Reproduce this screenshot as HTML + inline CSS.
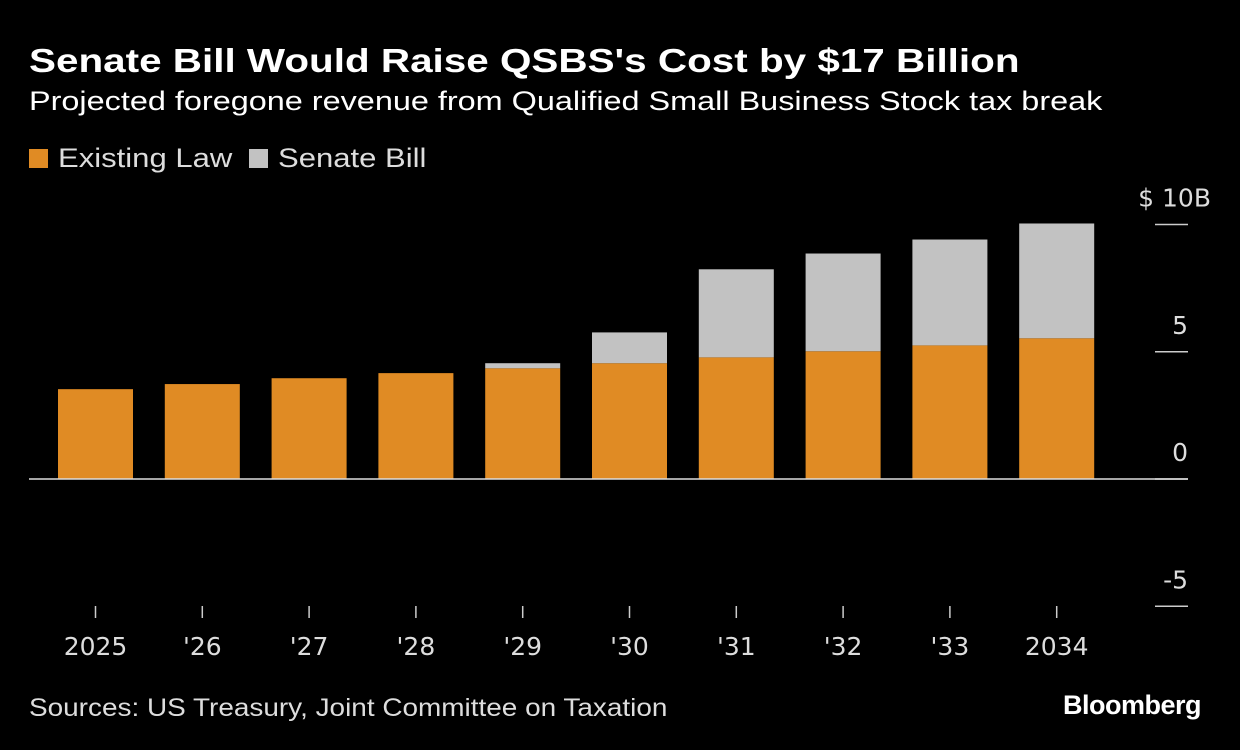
<!DOCTYPE html>
<html><head><meta charset="utf-8"><style>
body{margin:0;background:#000;width:1240px;height:750px;overflow:hidden;font-family:"Liberation Sans",sans-serif;color:#fff}
.sx{transform-origin:0 0;white-space:nowrap}
#title{position:absolute;left:29px;top:42px;font-size:33px;font-weight:bold;transform:scaleX(1.225)}
#sub{position:absolute;left:29px;top:86px;font-size:27px;color:#fff;transform:scaleX(1.2)}
#legend{position:absolute;left:29px;top:143px;font-size:27px;color:#ddd;display:flex;align-items:center}
.sw{display:inline-block;width:19px;height:19px;margin-right:10px}
.lt{display:inline-block;transform:scaleX(1.15);transform-origin:0 50%}
#src{position:absolute;left:29px;top:694px;font-size:25px;color:#ddd;transform:scaleX(1.117)}
#logo{position:absolute;right:39px;top:690px;font-size:27px;font-weight:bold;letter-spacing:-0.5px}
svg{position:absolute;left:0;top:0}
</style></head><body>
<div id="title" class="sx">Senate Bill Would Raise QSBS's Cost by $17 Billion</div>
<div id="sub" class="sx">Projected foregone revenue from Qualified Small Business Stock tax break</div>
<div id="legend">
<span style="display:flex;align-items:center;width:220px"><span class="sw" style="background:#e08b24"></span><span class="lt">Existing Law</span></span>
<span style="display:flex;align-items:center;margin-left:0px"><span class="sw" style="background:#c2c2c2"></span><span class="lt">Senate Bill</span></span>
</div>
<svg id="chart" width="1240" height="750"></svg>
<div id="src" class="sx">Sources: US Treasury, Joint Committee on Taxation</div>
<div id="logo">Bloomberg</div>
<script>
const categories=["2025","'26","'27","'28","'29","'30","'31","'32","'33","2034"];
const existingLaw=[3.53,3.73,3.96,4.16,4.35,4.55,4.78,5.02,5.25,5.53];
const senateExtra=[0,0,0,0,0.2,1.21,3.46,3.84,4.16,4.51];
const yTicks=[10,5,0,-5];
const yTickLabels=["$ 10B","5","0","-5"];
const NS="http://www.w3.org/2000/svg";
const svg=document.getElementById('chart');
const y=v=>479-v*25.45;
const xc=i=>95.5+i*106.8;
const bw=75;
function mk(t,a){const e=document.createElementNS(NS,t);for(const k in a)e.setAttribute(k,a[k]);svg.appendChild(e);return e;}
yTicks.forEach((v,i)=>{
 const l=mk('line',{x1:1155,x2:1188,y1:y(v),y2:y(v),stroke:'#ccc','stroke-width':1.5});
 
 
 const t=mk('text',{x:i===0?1211:1188,y:y(v)-18,'text-anchor':'end','font-size':25,fill:'#ddd','font-family':'DejaVu Sans'});
 t.textContent=yTickLabels[i];
 
 
});
categories.forEach((c,i)=>{
 const b=mk('rect',{x:xc(i)-bw/2,y:y(existingLaw[i]),width:bw,height:y(0)-y(existingLaw[i]),fill:'#e08b24'});
 
 
 if(senateExtra[i]>0){
  const top=existingLaw[i]+senateExtra[i];
  const s=mk('rect',{x:xc(i)-bw/2,y:y(top),width:bw,height:y(existingLaw[i])-y(top),fill:'#c2c2c2'});
  
  
 }
 const tk=mk('line',{x1:xc(i),x2:xc(i),y1:606,y2:618,stroke:'#ccc','stroke-width':1.5});
 
 
 const t=mk('text',{x:xc(i),y:655,'text-anchor':'middle','font-size':25,fill:'#ddd','font-family':'DejaVu Sans'});
 t.textContent=c;
 
 
});
const z=mk('line',{x1:29,x2:1188,y1:y(0),y2:y(0),stroke:'#ddd','stroke-width':1.5});


</script>
</body></html>
